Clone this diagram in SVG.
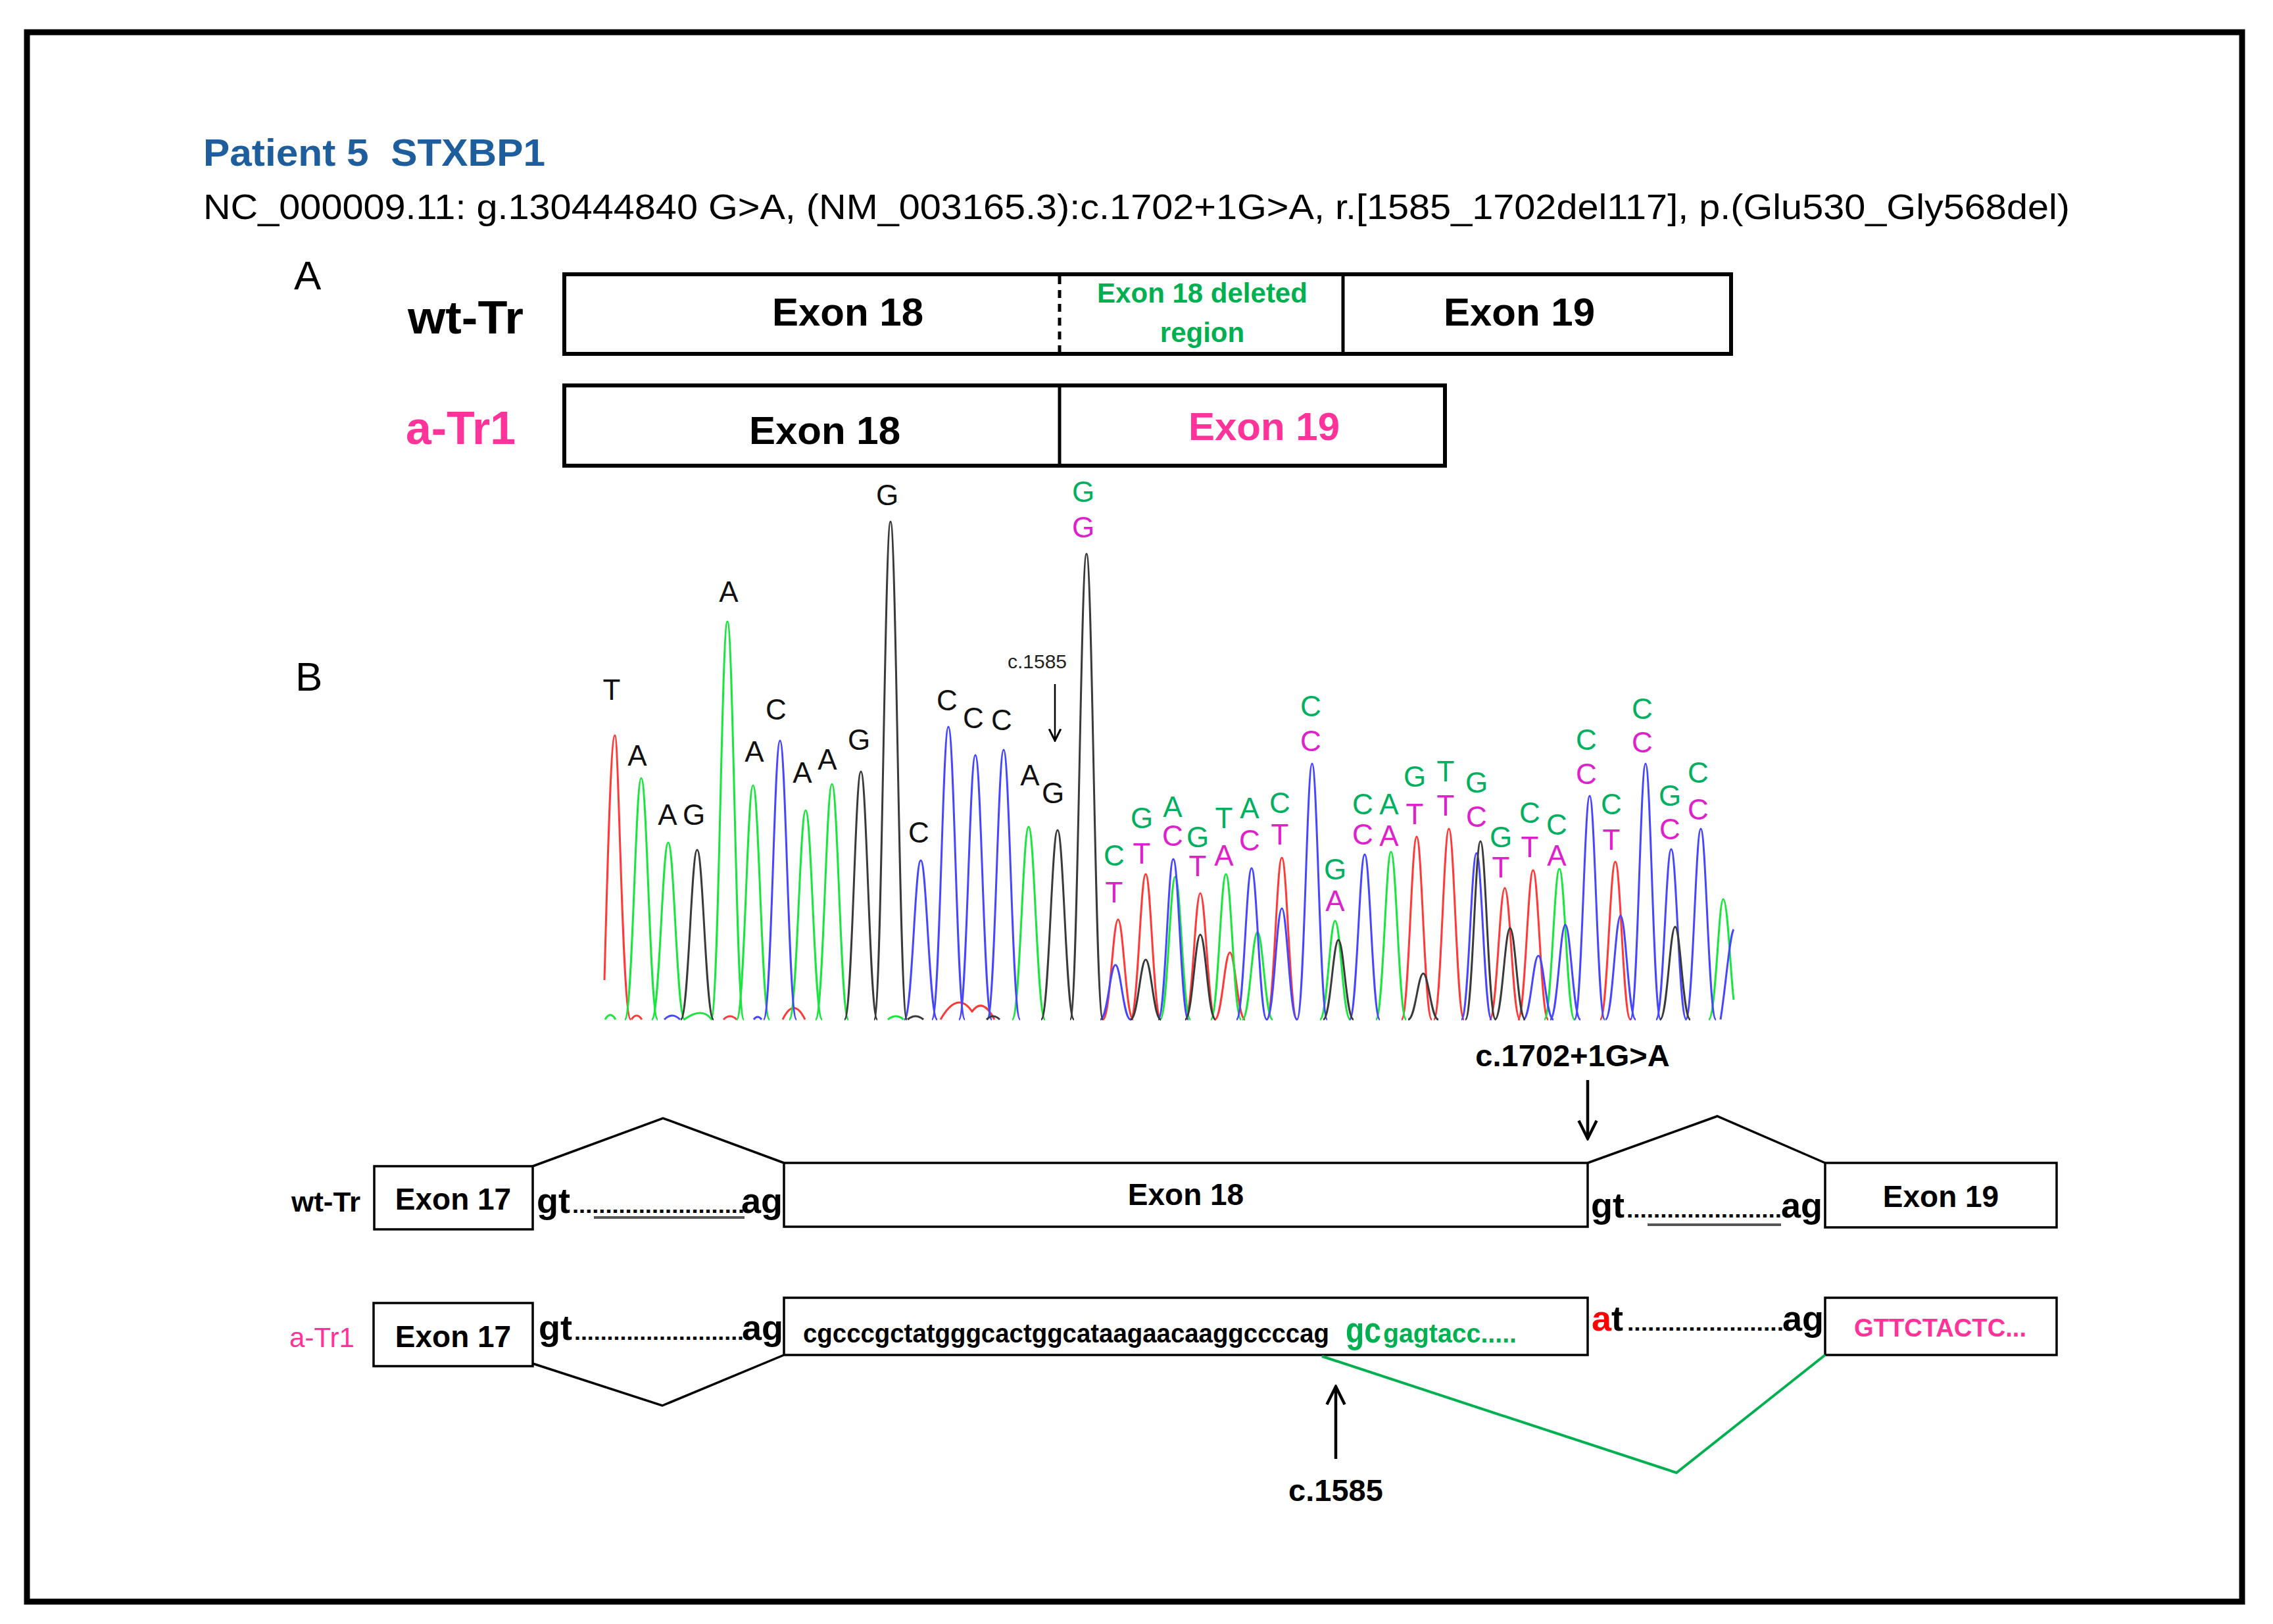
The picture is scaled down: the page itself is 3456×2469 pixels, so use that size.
<svg xmlns="http://www.w3.org/2000/svg" width="3456" height="2469" viewBox="0 0 3456 2469">
<defs>
<style>
text{font-family:"Liberation Sans",Arial,sans-serif}
.box{fill:#fff;stroke:#000;stroke-width:6}
.sbox{fill:#fff;stroke:#000;stroke-width:3.5}
.bold{font-weight:bold}
.mid{text-anchor:middle}
.end{text-anchor:end}
.pk{fill:none;stroke-width:3;stroke-linejoin:round}
.r{stroke:#FF3838}.g{stroke:#18E63C}.b{stroke:#4646FF}.k{stroke:#3A3A3A}
.lbl{font-size:44px;text-anchor:middle}
.lk{fill:#111}.lg{fill:#00B060}.lp{fill:#DD22CC}
.gt{font-size:54px;font-weight:bold;fill:#000}
.dots{font-size:34px;font-weight:bold;fill:#000}
.line{fill:none;stroke:#000;stroke-width:3.5;stroke-linejoin:miter}
</style>
<path id="pw" d="M-25,0 C-13,0 -9,-1 0,-1 C9,-1 13,0 25,0" fill="none" stroke-width="3" stroke-linejoin="round" vector-effect="non-scaling-stroke"/>
<path id="pn" d="M-23,0 C-12,0 -8,-1 0,-1 C8,-1 12,0 23,0" fill="none" stroke-width="3" stroke-linejoin="round" vector-effect="non-scaling-stroke"/>
<marker id="vhead" viewBox="0 0 10 10" refX="9" refY="5" markerWidth="34" markerHeight="34" markerUnits="userSpaceOnUse" orient="auto">
<path d="M1,1 L9,5 L1,9" fill="none" stroke="#000" stroke-width="1.3"/>
</marker>
<marker id="vsmall" viewBox="0 0 10 10" refX="9" refY="5" markerWidth="22" markerHeight="22" markerUnits="userSpaceOnUse" orient="auto">
<path d="M1,1 L9,5 L1,9" fill="none" stroke="#000" stroke-width="1.4"/>
</marker>
</defs>
<rect x="0" y="0" width="3456" height="2469" fill="#fff"/>
<rect x="41" y="49" width="3368" height="2386" fill="none" stroke="#000" stroke-width="9"/>

<g id="header">
<text x="309" y="252" font-size="58" font-weight="bold" fill="#1F5E9C" textLength="520" lengthAdjust="spacingAndGlyphs">Patient 5&#160; STXBP1</text>
<text x="309" y="333" font-size="54" fill="#000" textLength="2838" lengthAdjust="spacingAndGlyphs">NC_000009.11: g.130444840 G&gt;A, (NM_003165.3):c.1702+1G&gt;A, r.[1585_1702del117], p.(Glu530_Gly568del)</text>
<text x="447" y="440" font-size="62" fill="#000">A</text>
<text x="449" y="1050" font-size="62" fill="#000">B</text>
</g>

<g id="panelA-wt">
<text x="620" y="507" font-size="70" class="bold" fill="#000" textLength="176" lengthAdjust="spacingAndGlyphs">wt-Tr</text>
<rect class="box" x="858" y="417" width="1774" height="121"/>
<line x1="1611" y1="420" x2="1611" y2="536" stroke="#000" stroke-width="5" stroke-dasharray="12 9"/>
<line x1="2042" y1="417" x2="2042" y2="538" stroke="#000" stroke-width="5"/>
<text x="1289" y="495" font-size="60" class="bold mid">Exon 18</text>
<text x="1828" y="460" font-size="42" class="bold mid" fill="#00B050">Exon 18 deleted</text>
<text x="1828" y="520" font-size="42" class="bold mid" fill="#00B050">region</text>
<text x="2310" y="495" font-size="60" class="bold mid">Exon 19</text>
</g>

<g id="panelA-atr1">
<text x="617" y="675" font-size="70" class="bold" fill="#FF3399" textLength="167" lengthAdjust="spacingAndGlyphs">a-Tr1</text>
<rect class="box" x="858" y="586" width="1339" height="122"/>
<line x1="1611" y1="586" x2="1611" y2="708" stroke="#000" stroke-width="5"/>
<text x="1254" y="675" font-size="60" class="bold mid">Exon 18</text>
<text x="1922" y="669" font-size="60" class="bold mid" fill="#FF3399">Exon 19</text>
</g>

<g id="chromatogram">
<g class="r" stroke="#FF3838">
<path class="pk" d="M919,1490 C924,1300 929,1118 935,1118 C941,1118 946,1550 959,1550 M1190,1550 Q1207,1515 1224,1550 M1430,1550 Q1456,1505 1478,1538 Q1494,1515 1512,1550 M960,1550 Q968,1538 976,1550 M1100,1550 Q1110,1540 1120,1550"/>
<use href="#pn" transform="translate(1700,1550) scale(1,152)"/>
<use href="#pn" transform="translate(1742,1550) scale(1,221)"/>
<use href="#pn" transform="translate(1825,1550) scale(1,192)"/>
<use href="#pn" transform="translate(1870,1550) scale(1,102)"/>
<use href="#pn" transform="translate(1949,1550) scale(1,246)"/>
<use href="#pn" transform="translate(2154,1550) scale(1,278)"/>
<use href="#pn" transform="translate(2203,1550) scale(1,290)"/>
<use href="#pn" transform="translate(2288,1550) scale(1,200)"/>
<use href="#pn" transform="translate(2331,1550) scale(1,227)"/>
<use href="#pn" transform="translate(2456,1550) scale(1,240)"/>
</g>
<g class="g" stroke="#18E63C">
<use href="#pw" transform="translate(975,1550) scale(1,367)"/>
<use href="#pw" transform="translate(1016,1550) scale(1,269)"/>
<use href="#pw" transform="translate(1106,1550) scale(1,605)"/>
<use href="#pw" transform="translate(1145,1550) scale(1,356)"/>
<use href="#pw" transform="translate(1225,1550) scale(1,318)"/>
<use href="#pw" transform="translate(1265,1550) scale(1,358)"/>
<use href="#pw" transform="translate(1564,1550) scale(1,293)"/>
<use href="#pn" transform="translate(1787,1550) scale(1,217)"/>
<use href="#pn" transform="translate(1864,1550) scale(1,221)"/>
<use href="#pn" transform="translate(1912,1550) scale(1,133)"/>
<use href="#pn" transform="translate(2030,1550) scale(1,150)"/>
<use href="#pn" transform="translate(2115,1550) scale(1,255)"/>
<use href="#pn" transform="translate(2371,1550) scale(1,229)"/>
<path class="pk" d="M2598,1550 C2609,1550 2613,1367 2620,1367 C2627,1367 2631,1480 2636,1520 M920,1550 Q928,1536 936,1550 M1040,1550 Q1068,1530 1082,1550 M1350,1550 Q1362,1540 1374,1550"/>
</g>
<g class="b" stroke="#4646FF">
<use href="#pw" transform="translate(1186,1550) scale(1,424)"/>
<use href="#pw" transform="translate(1400,1550) scale(1,242)"/>
<use href="#pw" transform="translate(1442,1550) scale(1,445)"/>
<use href="#pw" transform="translate(1483,1550) scale(1,402)"/>
<use href="#pw" transform="translate(1526,1550) scale(1,410)"/>
<use href="#pn" transform="translate(1696,1550) scale(1,83)"/>
<use href="#pn" transform="translate(1784,1550) scale(1,244)"/>
<use href="#pn" transform="translate(1903,1550) scale(1,230)"/>
<use href="#pn" transform="translate(1949,1550) scale(1,169)"/>
<use href="#pn" transform="translate(1995,1550) scale(1,389)"/>
<use href="#pn" transform="translate(2075,1550) scale(1,251)"/>
<use href="#pn" transform="translate(2245,1550) scale(1,253)"/>
<use href="#pn" transform="translate(2339,1550) scale(1,97)"/>
<use href="#pn" transform="translate(2380,1550) scale(1,144)"/>
<use href="#pn" transform="translate(2417,1550) scale(1,340)"/>
<use href="#pn" transform="translate(2464,1550) scale(1,158)"/>
<use href="#pn" transform="translate(2502,1550) scale(1,389)"/>
<use href="#pn" transform="translate(2541,1550) scale(1,259)"/>
<use href="#pn" transform="translate(2586,1550) scale(1,290)"/>
<path class="pk" d="M2616,1550 C2624,1500 2630,1420 2636,1413 M1010,1550 Q1022,1538 1034,1550 M1146,1550 Q1152,1542 1158,1550"/>
</g>
<g class="k" stroke="#3A3A3A">
<use href="#pw" transform="translate(1060,1550) scale(1,258)"/>
<use href="#pw" transform="translate(1309,1550) scale(1,377)"/>
<use href="#pw" transform="translate(1354,1550) scale(1,757)"/>
<use href="#pw" transform="translate(1608,1550) scale(1,288)"/>
<use href="#pw" transform="translate(1652,1550) scale(1,708)"/>
<use href="#pn" transform="translate(1742,1550) scale(1,91)"/>
<use href="#pn" transform="translate(1825,1550) scale(1,129)"/>
<use href="#pn" transform="translate(2035,1550) scale(1,121)"/>
<use href="#pn" transform="translate(2164,1550) scale(1,70)"/>
<use href="#pn" transform="translate(2251,1550) scale(1,271)"/>
<use href="#pn" transform="translate(2296,1550) scale(1,139)"/>
<use href="#pn" transform="translate(2547,1550) scale(1,141)"/>
<path class="pk" d="M1380,1550 Q1392,1540 1404,1550 M1500,1550 Q1510,1540 1520,1550"/>
</g>
<g class="lbl lk">
<text x="930" y="1064">T</text><text x="969" y="1164">A</text><text x="1015" y="1254">A</text><text x="1055" y="1254">G</text>
<text x="1108" y="915">A</text><text x="1147" y="1158">A</text><text x="1180" y="1094">C</text><text x="1220" y="1190">A</text>
<text x="1258" y="1170">A</text><text x="1306" y="1140">G</text><text x="1349" y="768">G</text><text x="1397" y="1281">C</text>
<text x="1440" y="1080">C</text><text x="1480" y="1107">C</text><text x="1523" y="1110">C</text><text x="1566" y="1194">A</text>
<text x="1601" y="1221">G</text>
</g>
<text x="1577" y="1016" font-size="30" class="mid" fill="#222">c.1585</text>
<line x1="1604" y1="1040" x2="1604" y2="1126" stroke="#000" stroke-width="2.5" marker-end="url(#vsmall)"/>
<g class="lbl lg">
<text x="1647" y="763">G</text><text x="1694" y="1316">C</text><text x="1736" y="1259">G</text><text x="1783" y="1242">A</text>
<text x="1821" y="1288">G</text><text x="1861" y="1259">T</text><text x="1900" y="1244">A</text><text x="1946" y="1236">C</text>
<text x="1993" y="1089">C</text><text x="2030" y="1337">G</text><text x="2072" y="1238">C</text><text x="2112" y="1238">A</text>
<text x="2151" y="1196">G</text><text x="2198" y="1188">T</text><text x="2245" y="1205">G</text><text x="2282" y="1288">G</text>
<text x="2326" y="1251">C</text><text x="2367" y="1269">C</text><text x="2412" y="1140">C</text><text x="2450" y="1238">C</text>
<text x="2497" y="1093">C</text><text x="2539" y="1225">G</text><text x="2582" y="1190">C</text>
</g>
<g class="lbl lp">
<text x="1647" y="817">G</text><text x="1694" y="1372">T</text><text x="1736" y="1313">T</text><text x="1783" y="1286">C</text>
<text x="1821" y="1332">T</text><text x="1861" y="1316">A</text><text x="1900" y="1293">C</text><text x="1946" y="1284">T</text>
<text x="1993" y="1142">C</text><text x="2030" y="1385">A</text><text x="2072" y="1284">C</text><text x="2112" y="1286">A</text>
<text x="2151" y="1253">T</text><text x="2198" y="1240">T</text><text x="2245" y="1257">C</text><text x="2282" y="1334">T</text>
<text x="2326" y="1303">T</text><text x="2367" y="1316">A</text><text x="2412" y="1192">C</text><text x="2450" y="1292">T</text>
<text x="2497" y="1144">C</text><text x="2539" y="1276">C</text><text x="2582" y="1246">C</text>
</g>
</g>

<g id="wt-exon17">
<text x="443" y="1842" font-size="43" class="bold" textLength="105" lengthAdjust="spacingAndGlyphs">wt-Tr</text>
<rect class="sbox" x="569" y="1773" width="241" height="96"/>
<text x="689" y="1839" font-size="46" class="bold mid">Exon 17</text>
</g>
<g id="wt-intron17">
<text x="816" y="1844" class="gt">gt</text>
<text x="870" y="1844" class="dots" textLength="262" lengthAdjust="spacingAndGlyphs">..........................</text>
<text x="1190" y="1844" class="gt end">ag</text>
<line x1="903" y1="1851" x2="1132" y2="1851" stroke="#555" stroke-width="4"/>
</g>
<g id="wt-exon18">
<rect class="sbox" x="1192" y="1768" width="1222" height="97"/>
<text x="1803" y="1832" font-size="46" class="bold mid">Exon 18</text>
</g>
<g id="wt-intron18">
<text x="2419" y="1851" class="gt">gt</text>
<text x="2473" y="1851" class="dots" textLength="236" lengthAdjust="spacingAndGlyphs">.......................</text>
<text x="2771" y="1851" class="gt end">ag</text>
<line x1="2505" y1="1862" x2="2708" y2="1862" stroke="#555" stroke-width="4"/>
</g>
<g id="wt-exon19">
<rect class="sbox" x="2775" y="1768" width="352" height="98"/>
<text x="2951" y="1835" font-size="46" class="bold mid">Exon 19</text>
</g>
<g id="mutation-label">
<text x="2391" y="1621" font-size="47" class="bold mid">c.1702+1G&gt;A</text>
</g>

<g id="atr1-exon17">
<text x="440" y="2048" font-size="42" fill="#FF3399" textLength="99" lengthAdjust="spacingAndGlyphs">a-Tr1</text>
<rect class="sbox" x="568" y="1981" width="242" height="96"/>
<text x="689" y="2048" font-size="46" class="bold mid">Exon 17</text>
</g>
<g id="atr1-intron17">
<text x="819" y="2037" class="gt">gt</text>
<text x="873" y="2037" class="dots" textLength="258" lengthAdjust="spacingAndGlyphs">..........................</text>
<text x="1191" y="2037" class="gt end">ag</text>
</g>
<g id="atr1-exon18">
<rect class="sbox" x="1192" y="1973" width="1222" height="87"/>
<text x="1221" y="2041" font-size="40" class="bold" textLength="800" lengthAdjust="spacingAndGlyphs">cgcccgctatgggcactggcataagaacaaggccccag</text>
<text x="2046" y="2041" font-size="56" class="bold" fill="#00B050" textLength="54" lengthAdjust="spacingAndGlyphs">gc</text>
<text x="2103" y="2041" font-size="40" class="bold" fill="#00B050" textLength="203" lengthAdjust="spacingAndGlyphs">gagtacc.....</text>
</g>
<g id="atr1-intron18">
<text x="2420" y="2023" class="gt"><tspan fill="#FF0000">a</tspan>t</text>
<text x="2474" y="2023" class="dots" textLength="238" lengthAdjust="spacingAndGlyphs">.......................</text>
<text x="2773" y="2023" class="gt end">ag</text>
</g>
<g id="atr1-exon19">
<rect class="sbox" x="2775" y="1973" width="352" height="87"/>
<text x="2950" y="2032" font-size="38" class="bold mid" fill="#FF3399" textLength="262" lengthAdjust="spacingAndGlyphs">GTTCTACTC...</text>
</g>
<g id="c1585-label">
<text x="2031" y="2282" font-size="47" class="bold mid">c.1585</text>
</g>

<g id="connectors">
<polyline class="line" points="810,1773 1008,1700 1192,1768"/>
<polyline class="line" points="2414,1768 2611,1697 2775,1768"/>
<polyline class="line" points="810,2073 1007,2137 1192,2060"/>
<polyline fill="none" stroke="#00B050" stroke-width="4" points="2010,2062 2549,2239 2775,2060"/>
<line x1="2414" y1="1642" x2="2414" y2="1731" stroke="#000" stroke-width="4.5" marker-end="url(#vhead)"/>
<line x1="2031" y1="2218" x2="2031" y2="2108" stroke="#000" stroke-width="4.5" marker-end="url(#vhead)"/>
</g>
</svg>
